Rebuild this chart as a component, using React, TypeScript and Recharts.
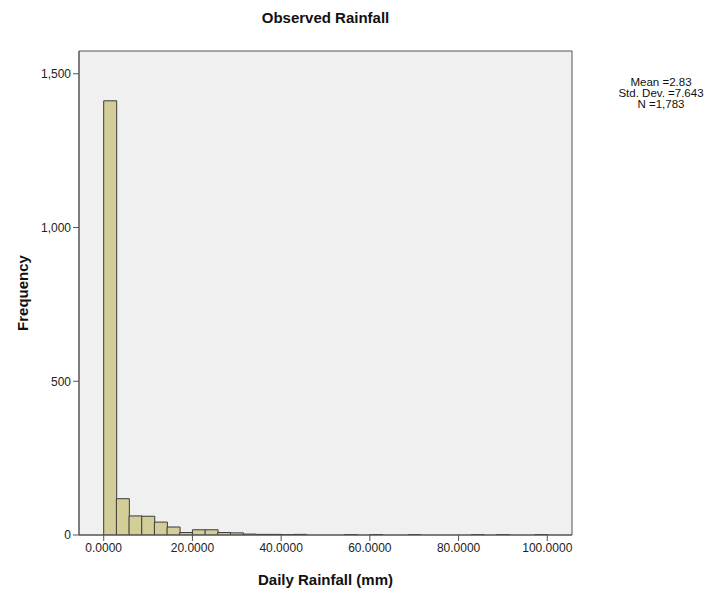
import React from 'react';
import {
  BarChart,
  Bar,
  XAxis,
  YAxis,
  CartesianGrid,
  ReferenceArea,
} from 'recharts';

// Histogram of daily rainfall: 35 bins of equal width between 0 and 100 mm
const binLow = 0;
const binHigh = 100;
const binCounts = [
  1412, 118, 62, 61, 42, 26, 8, 17, 17, 8, 7, 3, 2, 2, 1, 2, 0, 0, 0, 1, 0, 1,
  0, 0, 1, 0, 0, 0, 0, 1, 0, 1, 0, 0, 1,
];
const xTicks = [0, 20, 40, 60, 80, 100];
const yTicks = [0, 500, 1000, 1500];
const statLines = ['Mean =2.83', 'Std. Dev. =7.643', 'N =1,783'];

const binWidth = (binHigh - binLow) / binCounts.length;
const data = binCounts.map((count, i) => ({
  bin: i,
  mid: binLow + (i + 0.5) * binWidth,
  count,
}));

const FONT = '"Liberation Sans", Arial, sans-serif';
const xDomain: [number, number] = [-5.57, 105.57];
const yDomain: [number, number] = [0, 1574];

const tickStyle = { fontSize: 12, fill: '#222', fontFamily: FONT };

export default function App() {
  return (
    <div
      style={{
        position: 'absolute',
        left: 0,
        top: 0,
        width: 717,
        height: 599,
        background: '#fff',
        fontFamily: FONT,
      }}
    >
      <div
        style={{
          position: 'absolute',
          left: 79,
          width: 493,
          top: 9,
          textAlign: 'center',
          fontSize: 15,
          fontWeight: 'bold',
          color: '#111',
        }}
      >
        Observed Rainfall
      </div>

      <BarChart
        width={717}
        height={599}
        data={data}
        barCategoryGap={0}
        margin={{ top: 51, right: 145, bottom: 0, left: 0 }}
      >
        <CartesianGrid fill="#F0F0F0" horizontal={false} vertical={false} />
        <XAxis
          xAxisId="num"
          dataKey="mid"
          type="number"
          domain={xDomain}
          allowDataOverflow
          ticks={xTicks}
          tickFormatter={(v: number) => v.toFixed(4)}
          height={64}
          tick={tickStyle}
          tickSize={6}
          stroke="#555"
          tickLine={{ stroke: '#555' }}
          interval={0}
        />
        <XAxis
          xAxisId="bins"
          dataKey="bin"
          orientation="top"
          hide
          height={0}
          padding={{ left: 24.7, right: 24.7 }}
        />
        <YAxis
          yAxisId="left"
          domain={yDomain}
          allowDataOverflow
          ticks={yTicks}
          tickFormatter={(v: number) => v.toLocaleString('en-US')}
          width={79}
          tick={tickStyle}
          tickSize={6}
          stroke="#555"
          interval={0}
        />
        <Bar
          xAxisId="bins"
          yAxisId="left"
          dataKey="count"
          fill="#D3CE97"
          stroke="#3a3a3a"
          strokeWidth={1}
          isAnimationActive={false}
        />
        <ReferenceArea
          xAxisId="num"
          yAxisId="left"
          x1={xDomain[0]}
          x2={xDomain[1]}
          y1={yDomain[0]}
          y2={yDomain[1]}
          fill="none"
          fillOpacity={0}
          stroke="#555"
          strokeWidth={1}
          ifOverflow="visible"
        />
      </BarChart>

      <div
        style={{
          position: 'absolute',
          left: 0,
          top: 285,
          width: 44,
          height: 16,
          textAlign: 'center',
          fontSize: 15,
          fontWeight: 'bold',
          color: '#111',
          whiteSpace: 'nowrap',
          display: 'flex',
          justifyContent: 'center',
        }}
      >
        <span style={{ transform: 'rotate(-90deg)', display: 'inline-block' }}>
          Frequency
        </span>
      </div>

      <div
        style={{
          position: 'absolute',
          left: 79,
          width: 493,
          top: 571,
          textAlign: 'center',
          fontSize: 15,
          fontWeight: 'bold',
          color: '#111',
        }}
      >
        Daily Rainfall (mm)
      </div>

      <div
        style={{
          position: 'absolute',
          left: 611,
          width: 100,
          top: 77,
          textAlign: 'center',
          fontSize: 11.5,
          lineHeight: '11px',
          color: '#111',
        }}
      >
        {statLines.map((s) => (
          <div key={s}>{s}</div>
        ))}
      </div>
    </div>
  );
}
